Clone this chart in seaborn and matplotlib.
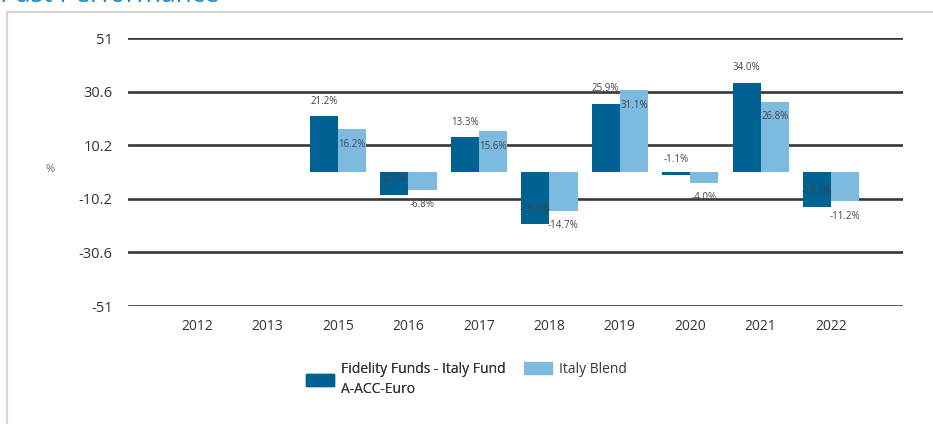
import matplotlib
matplotlib.use("Agg")
import matplotlib.pyplot as plt
from matplotlib.patches import Patch
from matplotlib.lines import Line2D
import seaborn as sns
import pandas as pd

# data
years = ["2012", "2013", "2015", "2016", "2017", "2018", "2019", "2020", "2021", "2022"]
fund = [None, None, 21.2, -8.7, 13.3, -19.8, 25.9, -1.1, 34.0, -13.2]
blend = [None, None, 16.2, -6.8, 15.6, -14.7, 31.1, -4.0, 26.8, -11.2]
fund_name = "Fidelity Funds - Italy Fund\nA-ACC-Euro"
blend_name = "Italy Blend"
yticks = [-51, -30.6, -10.2, 10.2, 30.6, 51]

dark = "#006193"
light = "#7dbae0"

df = pd.DataFrame({
    "year": years * 2,
    "value": fund + blend,
    "series": ["fund"] * len(years) + ["blend"] * len(years),
})

sns.set_theme(style="white")
plt.rcParams["font.family"] = ["Open Sans", "DejaVu Sans"]

fig = plt.figure(figsize=(9.33, 4.24), dpi=100)
ax = fig.add_axes([128 / 933, 1 - 306 / 424, (903 - 128) / 933, (306 - 38) / 424])

sns.barplot(data=df.dropna(), x="year", y="value", hue="series", order=years,
            hue_order=["fund", "blend"], palette=[dark, light], width=0.8,
            linewidth=0, saturation=1, ax=ax, legend=False)

ax.set_xlim(-0.98, 10.02)
ax.set_ylim(-51, 51)
ax.set_yticks(yticks)
ax.set_yticklabels([f"{v:g}" for v in yticks])
for v in yticks:
    ax.axhline(v, color="#383838", lw=1.9, zorder=0)
for s in ax.spines.values():
    s.set_visible(False)
ax.tick_params(axis="y", length=0, pad=11, labelsize=10.5, labelcolor="#333333")
ax.tick_params(axis="x", length=0, pad=9, labelsize=10, labelcolor="#333333")
ax.set_xlabel("")
ax.set_ylabel("")
fig.text(50 / 933, 1 - 170 / 424, "%", fontsize=8, color="#666666", ha="center", va="center")

# value labels: dark above the bar end, light below it
off = 15 / 2.627
for i, (f, b) in enumerate(zip(fund, blend)):
    if f is not None:
        ax.text(i - 0.2, f + off, f"{f:.1f}%", ha="center", va="center",
                fontsize=7, color="#444444", clip_on=False)
    if b is not None:
        ax.text(i + 0.2, b - off, f"{b:.1f}%", ha="center", va="center",
                fontsize=7, color="#444444", clip_on=False)

# legends
fs = 10
leg1 = fig.legend(handles=[Patch(color=dark, label=fund_name)], loc="upper left",
                  bbox_to_anchor=(306 / 933, 1 - 362 / 424), frameon=False, fontsize=fs,
                  handlelength=2.0, handleheight=0.9, handletextpad=0.5, borderpad=0,
                  borderaxespad=0, labelcolor="#333333")
leg1.get_texts()[0].set_linespacing(1.45)
leg2 = fig.legend(handles=[Patch(color=light, label=blend_name)], loc="upper left",
                  bbox_to_anchor=(524 / 933, 1 - 362 / 424), frameon=False, fontsize=fs,
                  handlelength=2.0, handleheight=0.9, handletextpad=0.5, borderpad=0,
                  borderaxespad=0, labelcolor="#333333")
fig.add_artist(leg1)

# outer panel frame and clipped title (only its lower edge shows, as in the source)
fig.add_artist(Line2D([7 / 933, 1], [1 - 12 / 424] * 2, color="#d4d4d4", lw=1.6))
fig.add_artist(Line2D([7 / 933] * 2, [0, 1 - 12 / 424], color="#d4d4d4", lw=1.6))
fig.text(0.0, 1 - 1.5 / 424, "Past Performance", fontsize=19, color="#1f8ac4",
         ha="left", va="baseline")

fig.savefig("out.png", dpi=100)
